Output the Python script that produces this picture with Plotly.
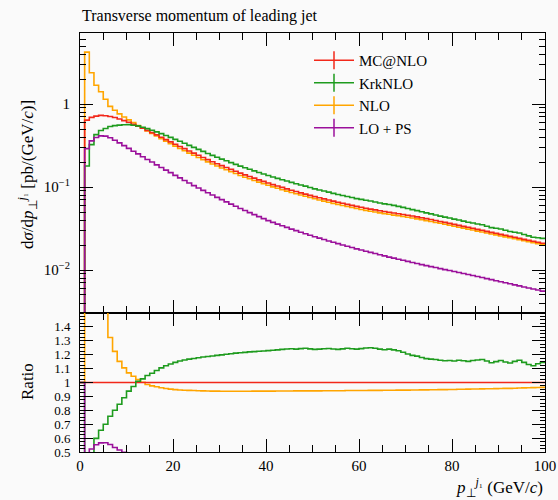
import plotly.graph_objects as go

# ---------------- data (1 GeV bins, 0..100) ----------------
bin_edges = list(range(0, 101))

mcnlo = [0, 0.640, 0.690, 0.715, 0.730, 0.724, 0.708, 0.687, 0.661, 0.632,
         0.603, 0.571, 0.541, 0.511, 0.481, 0.452, 0.425, 0.398, 0.373, 0.350,
         0.328, 0.308, 0.290, 0.272, 0.256, 0.241, 0.227, 0.214, 0.202, 0.191,
         0.181, 0.172, 0.163, 0.155, 0.147, 0.140, 0.134, 0.128, 0.122, 0.117,
         0.112, 0.107, 0.103, 0.0989, 0.0951, 0.0916, 0.0883, 0.0851, 0.0822, 0.0794,
         0.0767, 0.0743, 0.0719, 0.0697, 0.0676, 0.0656, 0.0637, 0.0618, 0.0601, 0.0585,
         0.0570, 0.0556, 0.0542, 0.0530, 0.0518, 0.0507, 0.0497, 0.0486, 0.0476, 0.0467,
         0.0457, 0.0447, 0.0437, 0.0427, 0.0416, 0.0406, 0.0395, 0.0385, 0.0375, 0.0365,
         0.0355, 0.0345, 0.0336, 0.0327, 0.0318, 0.0309, 0.0301, 0.0292, 0.0284, 0.0277,
         0.0269, 0.0262, 0.0255, 0.0248, 0.0241, 0.0234, 0.0228, 0.0222, 0.0216, 0.0210]

ratio_krknlo = [1.0, 0.28, 0.47, 0.598, 0.657, 0.700, 0.757, 0.800, 0.843, 0.890,
                0.938, 0.971, 1.009, 1.026, 1.050, 1.067, 1.086, 1.105, 1.120, 1.133,
                1.145, 1.155, 1.162, 1.168, 1.173, 1.178, 1.183, 1.187, 1.191, 1.195,
                1.199, 1.203, 1.207, 1.211, 1.214, 1.217, 1.220, 1.222, 1.225, 1.227,
                1.229, 1.232, 1.235, 1.238, 1.241, 1.243, 1.240, 1.244, 1.246, 1.242,
                1.238, 1.240, 1.243, 1.245, 1.241, 1.238, 1.242, 1.246, 1.243, 1.240,
                1.244, 1.248, 1.250, 1.246, 1.240, 1.236, 1.240, 1.235, 1.228, 1.218,
                1.205, 1.195, 1.190, 1.180, 1.172, 1.168, 1.165, 1.160, 1.157, 1.158,
                1.155, 1.160, 1.156, 1.152, 1.158, 1.162, 1.165, 1.155, 1.142, 1.150,
                1.158, 1.148, 1.140, 1.152, 1.160, 1.145, 1.130, 1.120, 1.135, 1.145]

ratio_nlo = [1.0, 6.60, 3.45, 2.36, 1.93, 1.58, 1.324, 1.224, 1.152, 1.105,
             1.069, 1.045, 1.021, 1.002, 0.986, 0.976, 0.969, 0.962, 0.957, 0.952,
             0.949, 0.946, 0.944, 0.943, 0.942, 0.941, 0.940, 0.939, 0.938, 0.938,
             0.937, 0.937, 0.937, 0.937, 0.937, 0.937, 0.937, 0.938, 0.938, 0.938,
             0.938, 0.938, 0.939, 0.939, 0.939, 0.939, 0.940, 0.940, 0.940, 0.940,
             0.940, 0.940, 0.941, 0.941, 0.941, 0.941, 0.941, 0.942, 0.942, 0.942,
             0.942, 0.942, 0.943, 0.943, 0.943, 0.944, 0.944, 0.944, 0.945, 0.945,
             0.945, 0.946, 0.946, 0.947, 0.947, 0.948, 0.948, 0.949, 0.949, 0.950,
             0.950, 0.951, 0.951, 0.952, 0.953, 0.953, 0.954, 0.955, 0.955, 0.956,
             0.957, 0.958, 0.958, 0.959, 0.960, 0.961, 0.962, 0.963, 0.964, 0.965]

lops = [0, 0.29, 0.36, 0.395, 0.413, 0.41, 0.392, 0.366, 0.34, 0.315,
        0.292, 0.270, 0.251, 0.232, 0.215, 0.200, 0.185, 0.172, 0.160, 0.149,
        0.138, 0.129, 0.120, 0.112, 0.104, 0.0975, 0.0912, 0.0853, 0.0800, 0.0750,
        0.0705, 0.0662, 0.0622, 0.0586, 0.0552, 0.0521, 0.0492, 0.0465, 0.0440, 0.0416,
        0.0394, 0.0375, 0.0357, 0.0341, 0.0326, 0.0311, 0.0298, 0.0285, 0.0274, 0.0262,
        0.0252, 0.0242, 0.0233, 0.0224, 0.0216, 0.0208, 0.0200, 0.0193, 0.0187, 0.0180,
        0.0174, 0.0168, 0.0163, 0.0158, 0.0153, 0.0148, 0.0143, 0.0139, 0.0135, 0.0131,
        0.0127, 0.0123, 0.0120, 0.0116, 0.0113, 0.0110, 0.0107, 0.0104, 0.0101, 0.00986,
        0.00959, 0.00933, 0.00908, 0.00883, 0.00857, 0.00834, 0.00811, 0.00787, 0.00766, 0.00743,
        0.00723, 0.00701, 0.00682, 0.00662, 0.00644, 0.00625, 0.00608, 0.00590, 0.00574, 0.00557]

labels = ["MC@NLO", "KrkNLO", "NLO", "LO + PS"]
colors = ["#f2281a", "#1e9b1e", "#ffa500", "#9b109b"]

y_major_vals = [0.01, 0.1, 1]
y_major_text = ["10<sup>−2</sup>", "10<sup>−1</sup>", "1"]
r_major_vals = [0.5, 0.6, 0.7, 0.8, 0.9, 1.0, 1.1, 1.2, 1.3, 1.4]
r_major_text = ["0.5", "0.6", "0.7", "0.8", "0.9", "1", "1.1", "1.2", "1.3", "1.4"]
x_major_vals = [0, 20, 40, 60, 80, 100]

# ---------------- derived series ----------------
krknlo = [m * r for m, r in zip(mcnlo, ratio_krknlo)]
nlo = [m * r for m, r in zip(mcnlo, ratio_nlo)]
ratio_mcnlo = [1.0 for _ in mcnlo]
ratio_lops = [(l / m if m > 0 else 1.0) for l, m in zip(lops, mcnlo)]

main_series = [mcnlo, krknlo, nlo, lops]
ratio_series = [ratio_mcnlo, ratio_krknlo, ratio_nlo, ratio_lops]

FLOOR = 1e-9


def steps(vals):
    return vals + [vals[-1]]


fig = go.Figure()
draw_order = [2, 0, 1, 3]
LW = 1.6
for i in draw_order:
    v = [x if x > 0 else FLOOR for x in main_series[i]]
    fig.add_trace(go.Scatter(x=bin_edges, y=steps(v), mode="lines", line_shape="hv",
                             line=dict(color=colors[i], width=LW),
                             xaxis="x", yaxis="y", showlegend=False, hoverinfo="skip"))
for i in draw_order:
    fig.add_trace(go.Scatter(x=bin_edges, y=steps(ratio_series[i]), mode="lines", line_shape="hv",
                             line=dict(color=colors[i], width=LW),
                             xaxis="x2", yaxis="y2", showlegend=False, hoverinfo="skip"))
for i in range(4):
    fig.add_trace(go.Scatter(x=[None], y=[None], mode="lines+markers", name=labels[i],
                             line=dict(color=colors[i], width=1.5),
                             marker=dict(symbol="line-ns", size=13,
                                         line=dict(color=colors[i], width=1.5)),
                             xaxis="x", yaxis="y"))

W, H = 558, 500
x0, x1 = 80 / W, 545 / W
top_y0, top_y1 = 1 - 313 / H, 1 - 33 / H
rat_y0, rat_y1 = 1 - 452 / H, 1 - 313 / H

FONT = "Liberation Serif"
axis_common = dict(showline=True, linecolor="black", linewidth=1, mirror="allticks",
                   ticks="inside", ticklen=13, tickwidth=1, tickcolor="black",
                   showgrid=False, zeroline=False, automargin=False)

minor_logs = []
for dec in [0.001, 0.01, 0.1, 1]:
    for k in range(2, 10):
        minor_logs.append(dec * k)

fig.update_layout(
    width=W, height=H,
    margin=dict(l=0, r=0, t=0, b=0, autoexpand=False),
    paper_bgcolor="#fafafa", plot_bgcolor="#fafafa",
    font=dict(family=FONT, size=15, color="black"),
    xaxis=dict(domain=[x0, x1], anchor="y", range=[0, 100], tickvals=x_major_vals,
               showticklabels=False,
               minor=dict(ticks="inside", ticklen=7, dtick=5, tick0=0, tickcolor="black", showgrid=False),
               **axis_common),
    yaxis=dict(domain=[top_y0, top_y1], anchor="x", type="log", range=[-2.518, 0.856],
               tickvals=y_major_vals, ticktext=y_major_text, ticklabelstandoff=6,
               minor=dict(ticks="inside", ticklen=6, tickmode="array", tickvals=minor_logs,
                          tickcolor="black", showgrid=False),
               tickfont=dict(size=15), **axis_common),
    xaxis2=dict(domain=[x0, x1], anchor="y2", range=[0, 100], tickvals=x_major_vals,
                minor=dict(ticks="inside", ticklen=7, dtick=5, tick0=0, tickcolor="black", showgrid=False),
                tickfont=dict(size=15), **axis_common),
    yaxis2=dict(domain=[rat_y0, rat_y1], anchor="x2", range=[0.5, 1.5],
                tickvals=r_major_vals, ticktext=r_major_text, ticklabelstandoff=6,
                minor=dict(ticks="inside", ticklen=5, dtick=0.025, tick0=0.5,
                           tickcolor="black", showgrid=False),
                tickfont=dict(size=13), **axis_common),
    legend=dict(x=309 / W, y=1 - 44 / H, xanchor="left", yanchor="top",
                bgcolor="rgba(0,0,0,0)", font=dict(size=15, family=FONT),
                tracegroupgap=0, itemwidth=40),
    annotations=[
        dict(text="Transverse momentum of leading jet", x=x0, y=1 - 16 / H,
             xref="paper", yref="paper", xanchor="left", yanchor="middle",
             showarrow=False, font=dict(size=16, family=FONT)),
        dict(text="d<i>σ</i>/d<i>p</i><sub>⊥</sub><sup><i>j</i>₁</sup> [pb/(GeV/<i>c</i>)]",
             x=27 / W, y=1 - 175 / H, xref="paper", yref="paper", textangle=-90,
             xanchor="center", yanchor="middle", showarrow=False,
             font=dict(size=17, family=FONT)),
        dict(text="Ratio", x=27 / W, y=1 - 382 / H, xref="paper", yref="paper", textangle=-90,
             xanchor="center", yanchor="middle", showarrow=False,
             font=dict(size=17, family=FONT)),
        dict(text="<i>p</i><sub>⊥</sub><sup><i>j</i>₁</sup> (GeV/<i>c</i>)",
             x=x1, y=1 - 487 / H, xref="paper", yref="paper",
             xanchor="right", yanchor="middle", showarrow=False,
             font=dict(size=17, family=FONT)),
    ],
)

fig.write_html("out.html")
